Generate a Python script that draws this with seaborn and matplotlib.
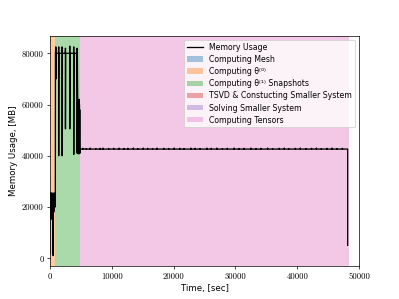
import numpy as np
import pandas as pd
import matplotlib
matplotlib.use("Agg")
import matplotlib.pyplot as plt
from matplotlib.ticker import MultipleLocator
import seaborn as sns

# memory trace (seconds, MB)
orange_t = [0, 30, 80, 130, 180, 230, 280, 330, 380, 430, 480, 530, 580,
            630, 680, 730, 780, 830, 880]
orange_mem = [2000, 24000, 16000, 25500, 15500, 24500, 19000, 25500, 15000,
              24000, 20000, 1000, 25000, 18000, 25500, 20000, 25000, 20500, 20000]

green_t = [900, 950, 1000, 1000, 1030, 1400, 1430, 1430, 1460, 1950, 1980,
           1980, 2010, 2490, 2520, 2520, 2550, 3190, 3220, 3220, 3250, 3830,
           3860, 3860, 3890, 4380, 4410, 4410, 4440]
green_mem = [80000, 82500, 82000, 70000, 80000, 80000, 82500, 40000, 80000,
             80000, 82500, 40000, 80000, 80000, 82000, 50500, 80000, 80000,
             82800, 50500, 80000, 80000, 82500, 40500, 80000, 80000, 82000,
             41000, 80000]

dense_t = [4560, 4580, 4600, 4620, 4640, 4660, 4680, 4700, 4720, 4740, 4760,
           4780, 4800, 4820, 4840, 4860]
dense_mem = [41000, 60000, 40800, 61000, 41000, 62000, 40800, 62000, 41000,
             61500, 40800, 60000, 41000, 58000, 41000, 42500]

# long plateau with small blips
plateau_mem = 42600
blip_times = [5300, 5900, 6500, 7400, 8100, 8600, 9500, 10300, 11200, 12000,
              12600, 13500, 14200, 15100, 15800, 16600, 17300, 18400, 19200,
              20100, 21000, 21700, 22800, 23500, 24300, 25400, 26100, 27000,
              27900, 28700, 29800, 30600, 31400, 32500, 33300, 34100, 35200,
              36000, 37100, 37900, 38600, 39700, 40500, 41400, 42300, 43100,
              43900, 44800, 45600, 46400, 47300]
blip_mem = [42900, 42800, 43000, 42800, 42900, 43000, 42800, 42900, 43000,
            42800, 42900, 43000, 42800, 43000, 42900, 42800, 43000, 42900,
            42800, 43000, 42900, 42800, 43000, 42900, 42800, 43000, 42900,
            43000, 42800, 42900, 43000, 42800, 42900, 43000, 42800, 42900,
            43000, 42800, 42900, 43000, 42800, 42900, 43000, 42800, 42900,
            43000, 42800, 42900, 43000, 42800, 42900]
end_t = [48150, 48150]
end_mem = [plateau_mem, 5000]

# phases
phase_start = [0, 20, 900, 4800, 48150, 4950]
phase_end = [20, 900, 4800, 4950, 48200, 48300]
phase_labels = ["Computing Mesh", "Computing θ⁽⁰⁾",
                "Computing θ⁽¹⁾ Snapshots",
                "TSVD & Constucting Smaller System", "Solving Smaller System",
                "Computing Tensors"]
phase_colors = ["tab:blue", "tab:orange", "tab:green", "tab:red",
                "tab:purple", "tab:pink"]

flat_t, flat_mem = [4900], [plateau_mem]
for t, m in zip(blip_times, blip_mem):
    flat_t += [t, t, t + 15]
    flat_mem += [plateau_mem, m, plateau_mem]

df = pd.DataFrame({
    "time": orange_t + green_t + dense_t + flat_t + end_t,
    "mem": orange_mem + green_mem + dense_mem + flat_mem + end_mem,
})

plt.rcParams["axes.unicode_minus"] = False

fig, ax = plt.subplots(figsize=(6.4, 4.8), dpi=399 / 6.4)

patches = []
for s, e, lab, c in zip(phase_start, phase_end, phase_labels, phase_colors):
    patches.append(ax.axvspan(s, e, color=c, alpha=0.4, lw=0, label=lab))

sns.lineplot(data=df, x="time", y="mem", sort=False, estimator=None,
             color="black", lw=1.5, ax=ax, label="Memory Usage")
line = ax.get_lines()[-1]

ax.set_xlim(0, 50000)
ax.yaxis.set_major_locator(MultipleLocator(20000))
ax.xaxis.set_major_locator(MultipleLocator(10000))
ax.set_xlabel("Time, [sec]", fontsize=10)
ax.set_ylabel("Memory Usage, [MB]", fontsize=10)
for lbl in ax.get_xticklabels() + ax.get_yticklabels():
    lbl.set_fontfamily("cmr10")

ax.legend(handles=[line] + patches, loc="upper right", labelspacing=0.4,
          prop={"size": 9, "family": ["DejaVu Sans"]})

plt.savefig("out.png", dpi=399 / 6.4)
plt.close()
